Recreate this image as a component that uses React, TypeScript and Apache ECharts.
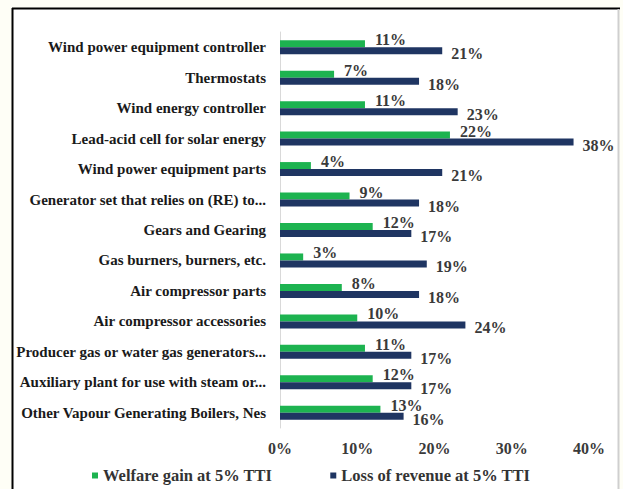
import React, { useEffect, useRef } from "react";
import * as echarts from "echarts";

const categories = [
  "Wind power equipment controller",
  "Thermostats",
  "Wind energy controller",
  "Lead-acid cell for solar energy",
  "Wind power equipment parts",
  "Generator set that relies on (RE) to...",
  "Gears and Gearing",
  "Gas burners, burners, etc.",
  "Air compressor parts",
  "Air compressor accessories",
  "Producer gas or water gas generators...",
  "Auxiliary plant for use with steam or...",
  "Other Vapour Generating Boilers, Nes",
];
const welfareGain = [11, 7, 11, 22, 4, 9, 12, 3, 8, 10, 11, 12, 13];
const lossOfRevenue = [21, 18, 23, 38, 21, 18, 17, 19, 18, 24, 17, 17, 16];
const seriesNames = ["Welfare gain at 5% TTI", "Loss of revenue at 5% TTI"];

const FONT = "Liberation Serif";

export default function App() {
  const ref = useRef<HTMLDivElement>(null);
  useEffect(() => {
    document.body.style.margin = "0";
    const chart = echarts.init(ref.current!, null, { renderer: "svg" });
    const labelStyle = {
      show: true,
      position: "right",
      fontFamily: FONT,
      fontWeight: "bold",
      fontSize: 16,
      color: "#3a3a3a",
      formatter: "{c}%",
    };
    chart.setOption({
      animation: false,
      backgroundColor: "#fefef6",
      graphic: [
        { type: "rect", silent: true, z: -10, shape: { x: 13, y: 9, width: 605, height: 480 }, style: { fill: "#ffffff" } },
        { type: "line", silent: true, shape: { x1: 12.5, y1: 8, x2: 12.5, y2: 489 }, style: { stroke: "#000", lineWidth: 2 } },
        { type: "line", silent: true, shape: { x1: 12, y1: 8.5, x2: 620, y2: 8.5 }, style: { stroke: "#000", lineWidth: 2 } },
        { type: "line", silent: true, shape: { x1: 618.5, y1: 9, x2: 618.5, y2: 489 }, style: { stroke: "#cfcfcf", lineWidth: 2 } },
      ],
      grid: { left: 280, right: 34, top: 32, bottom: 61, containLabel: false },
      legend: {
        bottom: 0,
        left: 87,
        itemWidth: 6,
        itemHeight: 6,
        itemGap: 58,
        icon: "rect",
        textStyle: { fontFamily: FONT, fontWeight: "bold", fontSize: 16.5, color: "#333" },
        data: seriesNames,
      },
      xAxis: {
        type: "value",
        min: 0,
        max: 40,
        interval: 10,
        splitLine: { show: false },
        axisLine: { show: false },
        axisTick: { show: false },
        axisLabel: {
          formatter: "{value}%",
          fontFamily: FONT,
          fontWeight: "bold",
          fontSize: 16,
          color: "#3a3a3a",
          margin: 12,
        },
      },
      yAxis: {
        type: "category",
        inverse: true,
        data: categories,
        axisLine: { show: true, lineStyle: { color: "#d9d9d9", width: 1 } },
        axisTick: { show: false },
        axisLabel: {
          fontFamily: FONT,
          fontWeight: "bold",
          fontSize: 15,
          color: "#1a1a1a",
          margin: 14,
        },
      },
      series: [
        {
          name: seriesNames[0],
          type: "bar",
          data: welfareGain,
          barWidth: 7,
          barGap: "0%",
          itemStyle: { color: "#1db350" },
          label: { ...labelStyle, offset: [5, -4] },
        },
        {
          name: seriesNames[1],
          type: "bar",
          data: lossOfRevenue,
          barWidth: 7,
          barGap: "0%",
          itemStyle: { color: "#1f3562" },
          label: { ...labelStyle, offset: [4, 3] },
        },
      ],
    });
    return () => chart.dispose();
  }, []);
  return <div ref={ref} style={{ width: 623, height: 489 }} />;
}
